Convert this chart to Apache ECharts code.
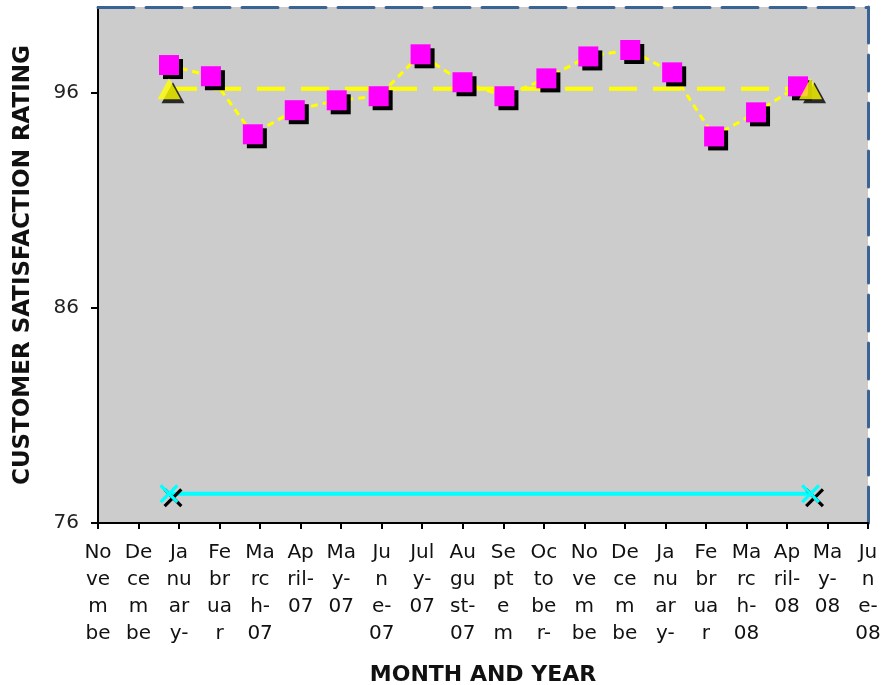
<!DOCTYPE html>
<html>
<head>
<meta charset="utf-8">
<script src="https://cdn.jsdelivr.net/npm/echarts@6/dist/echarts.min.js"></script>
<style>
html,body{margin:0;padding:0;background:#fff;}
#chart{width:884px;height:685px;}
</style>
</head>
<body>
<div id="chart"></div>
<script>
// Axis categories (months shown on the x axis), wrapped as in the original
const monthLabels = [
  "No\nve\nm\nbe", "De\nce\nm\nbe", "Ja\nnu\nar\ny-", "Fe\nbr\nua\nr", "Ma\nrc\nh-\n07",
  "Ap\nril-\n07", "Ma\ny-\n07", "Ju\nn\ne-\n07", "Jul\ny-\n07", "Au\ngu\nst-\n07",
  "Se\npt\ne\nm", "Oc\nto\nbe\nr-", "No\nve\nm\nbe", "De\nce\nm\nbe", "Ja\nnu\nar\ny-",
  "Fe\nbr\nua\nr", "Ma\nrc\nh-\n08", "Ap\nril-\n08", "Ma\ny-\n08", "Ju\nn\ne-\n08"
];
// Monthly customer satisfaction ratings, Jan-07 .. Apr-08
const ratingMonths = ["Jan-07","Feb-07","Mar-07","Apr-07","May-07","Jun-07","Jul-07","Aug-07",
  "Sep-07","Oct-07","Nov-07","Dec-07","Jan-08","Feb-08","Mar-08","Apr-08"];
const ratings = [97.3, 96.78, 94.08, 95.2, 95.66, 95.85, 97.8, 96.5,
  95.85, 96.68, 97.7, 98.0, 96.96, 93.98, 95.1, 96.31];
// Goal line and lower reference line
const goalValue = 96.2;
const lowerValue = 77.36;
const refSpan = [0, 15.3];
const yTicks = [76, 86, 96];

const chart = echarts.init(document.getElementById('chart'));
const font = 'DejaVu Sans';
const shadow = {shadowColor:'#000', shadowOffsetX:4, shadowOffsetY:4, shadowBlur:0};
const xPath = 'path://M0,1.2L1.2,0L5,3.8L8.8,0L10,1.2L6.2,5L10,8.8L8.8,10L5,6.2L1.2,10L0,8.8L3.8,5Z';

chart.setOption({
  animation: false,
  backgroundColor: '#ffffff',
  grid: {left: 98, right: 16, top: 7, bottom: 162, show: true, backgroundColor: '#CCCCCC', borderWidth: 0,
         containLabel: false, outerBoundsMode: 'none'},
  xAxis: [
    {
      type: 'category', data: monthLabels, boundaryGap: false, position: 'bottom',
      axisLine: {onZero: false, lineStyle: {color: '#000', width: 2}},
      axisTick: {show: true, length: 6, interval: 0, lineStyle: {color: '#000', width: 2}},
      axisLabel: {interval: 0, fontFamily: font, fontSize: 20, lineHeight: 27, color: '#111', margin: 16},
      splitLine: {show: false},
      name: 'MONTH AND YEAR', nameLocation: 'middle', nameGap: 141,
      nameTextStyle: {fontFamily: font, fontWeight: 'bold', fontSize: 22, color: '#111'}
    },
    {
      type: 'value', position: 'top', min: -1.693, max: 16.67,
      axisLine: {show: true, onZero: false, lineStyle: {color: '#3A6494', width: 3, type: [36, 12]}},
      axisTick: {show: false}, axisLabel: {show: false}, splitLine: {show: false}
    }
  ],
  yAxis: [
    {
      type: 'value', min: 76, max: 100, position: 'left',
      axisLine: {show: true, onZero: false, lineStyle: {color: '#000', width: 2}},
      axisTick: {show: true, length: 7, customValues: yTicks, lineStyle: {color: '#000', width: 2}},
      axisLabel: {customValues: yTicks, fontFamily: font, fontSize: 20, color: '#222', margin: 19},
      splitLine: {show: false},
      name: 'CUSTOMER SATISFACTION RATING', nameLocation: 'middle', nameGap: 63,
      nameTextStyle: {fontFamily: font, fontWeight: 'bold', fontSize: 23, color: '#111'}
    },
    {
      type: 'value', min: 76, max: 100, position: 'right',
      axisLine: {show: true, onZero: false, lineStyle: {color: '#3A6494', width: 3, type: [36, 12]}},
      axisTick: {show: false}, axisLabel: {show: false}, splitLine: {show: false}
    }
  ],
  series: [
    {
      name: 'Goal line', type: 'line', xAxisIndex: 1, yAxisIndex: 0, z: 2,
      data: refSpan.map(x => [x, goalValue]), symbol: 'none',
      lineStyle: {color: '#FFFF00', width: 4, type: [28, 16]}
    },
    {
      name: 'Lower', type: 'line', xAxisIndex: 1, yAxisIndex: 0, z: 2,
      data: refSpan.map(x => [x, lowerValue]), symbol: xPath, symbolSize: 19,
      itemStyle: Object.assign({color: '#00FFFF'}, shadow),
      lineStyle: {color: '#00FFFF', width: 4}
    },
    {
      name: 'Rating', type: 'line', xAxisIndex: 1, yAxisIndex: 0, z: 3,
      data: ratings.map((v, i) => [i, v]), symbol: 'rect', symbolSize: 20,
      itemStyle: Object.assign({color: '#FF00FF'}, shadow),
      lineStyle: {color: '#FFFF00', width: 3, type: [7, 5]}
    },
    {
      name: 'Goal', type: 'scatter', xAxisIndex: 1, yAxisIndex: 0, z: 4,
      data: refSpan.map(x => [x, goalValue]), symbol: 'triangle', symbolSize: [23, 21],
      itemStyle: Object.assign({color: '#FFFF00'}, shadow)
    }
  ]
});
</script>
</body>
</html>
